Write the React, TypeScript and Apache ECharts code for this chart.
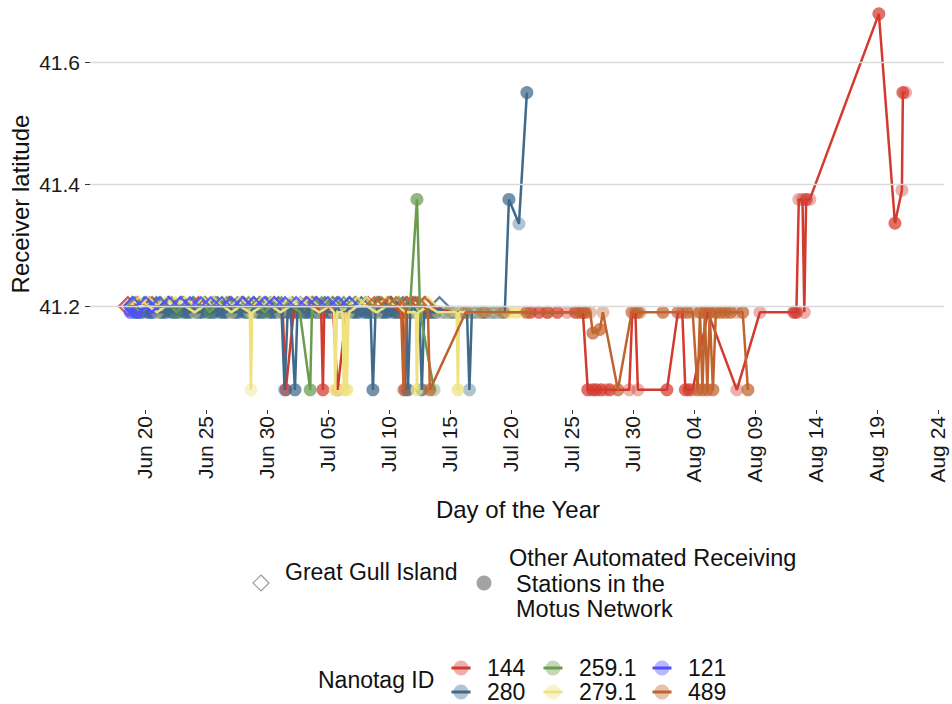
import React, { useEffect, useRef } from 'react';
import * as echarts from 'echarts';

// day = days after May 31 (Jun 20 = 20, Jul 05 = 35, Aug 04 = 65)
// kind: 0 = Great Gull Island, 1 = other station (single), 2 = other station (repeated)
type Pt = [number, number, number];

const tagIds = ['144', '280', '259.1', '279.1', '121', '489'];
const tagColors = ['#D33A2F', '#3F6A8B', '#6B9B4E', '#EFE27E', '#5050FF', '#C0632E'];

const tickDays = [20, 25, 30, 35, 40, 45, 50, 55, 60, 65, 70, 75, 80, 85];
const tickLabels = ['Jun 20', 'Jun 25', 'Jun 30', 'Jul 05', 'Jul 10', 'Jul 15', 'Jul 20', 'Jul 25', 'Jul 30', 'Aug 04', 'Aug 09', 'Aug 14', 'Aug 19', 'Aug 24'];
const latTicks = [41.2, 41.4, 41.6];

const tag144: Pt[] = [
  [18.61, 41.2, 0], [19.4, 41.2, 0], [20.6, 41.2, 0], [21.9, 41.2, 0], [23.1, 41.2, 0], [24.4, 41.2, 0],
  [25.6, 41.2, 0], [26.9, 41.2, 0], [28.1, 41.2, 0], [29.4, 41.2, 0], [30.6, 41.2, 0], [31.3, 41.19, 1],
  [31.55, 41.063, 2], [32.2, 41.19, 1], [33.2, 41.2, 0], [34.0, 41.2, 0], [34.45, 41.19, 1], [34.59, 41.063, 2],
  [34.7, 41.19, 1], [35.4, 41.2, 0], [35.8, 41.063, 1], [36.5, 41.19, 1], [37.3, 41.2, 0], [38.3, 41.2, 0],
  [39.2, 41.2, 0], [40.2, 41.2, 0], [41.1, 41.19, 1], [41.31, 41.063, 2], [41.5, 41.2, 0], [42.2, 41.2, 0],
  [43.0, 41.2, 0], [45.2, 41.19, 1], [47.6, 41.19, 1], [51.6, 41.19, 2], [52.3, 41.19, 2], [53.0, 41.19, 2],
  [53.8, 41.19, 2], [54.6, 41.19, 1], [55.3, 41.19, 2], [55.9, 41.19, 2], [56.3, 41.063, 2], [56.7, 41.063, 2],
  [57.0, 41.063, 2], [57.4, 41.063, 2], [57.8, 41.063, 1], [58.1, 41.063, 2], [59.7, 41.063, 1], [59.95, 41.19, 1],
  [60.2, 41.19, 1], [60.41, 41.063, 1], [62.79, 41.063, 2], [63.69, 41.19, 1], [64.05, 41.19, 1], [64.3, 41.063, 2],
  [64.6, 41.063, 2], [64.9, 41.063, 1], [66.15, 41.19, 1], [68.52, 41.063, 1], [70.41, 41.19, 1], [73.2, 41.19, 2],
  [73.4, 41.19, 2], [73.6, 41.375, 1], [73.9, 41.375, 1], [74.05, 41.19, 1], [74.2, 41.375, 2], [74.5, 41.375, 1],
  [80.16, 41.679, 2], [81.48, 41.336, 2], [82.05, 41.39, 1], [82.13, 41.55, 2], [82.35, 41.55, 1],
];

const tag280: Pt[] = [
  [19.0, 41.2, 0], [19.2, 41.19, 2], [19.45, 41.19, 2], [19.7, 41.19, 2], [19.95, 41.2, 0], [20.2, 41.19, 2],
  [20.45, 41.19, 2], [20.7, 41.19, 2], [20.95, 41.2, 0], [21.2, 41.19, 2], [21.45, 41.19, 2], [21.7, 41.19, 2],
  [21.95, 41.2, 0], [22.2, 41.19, 2], [22.45, 41.19, 2], [22.7, 41.19, 2], [22.95, 41.2, 0], [23.2, 41.19, 2],
  [23.45, 41.19, 2], [23.7, 41.19, 2], [23.95, 41.2, 0], [24.2, 41.19, 2], [24.45, 41.19, 2], [24.7, 41.19, 2],
  [24.95, 41.2, 0], [25.2, 41.19, 2], [25.45, 41.19, 2], [25.7, 41.19, 2], [25.95, 41.2, 0], [26.2, 41.19, 2],
  [26.45, 41.19, 2], [26.7, 41.19, 2], [26.95, 41.2, 0], [27.2, 41.19, 2], [27.45, 41.19, 2], [27.7, 41.19, 2],
  [27.95, 41.2, 0], [28.2, 41.19, 2], [28.45, 41.19, 2], [28.7, 41.19, 2], [28.95, 41.2, 0], [29.2, 41.19, 2],
  [29.45, 41.19, 2], [29.7, 41.19, 2], [29.95, 41.2, 0], [30.2, 41.19, 2], [30.45, 41.19, 2], [30.7, 41.19, 2],
  [30.95, 41.2, 0], [31.2, 41.19, 2], [31.45, 41.063, 1], [31.7, 41.19, 2], [31.95, 41.19, 2], [32.3, 41.063, 2],
  [32.5, 41.19, 2], [32.75, 41.2, 0], [33.0, 41.19, 2], [33.25, 41.19, 2], [33.5, 41.19, 2], [33.75, 41.2, 0],
  [34.0, 41.19, 2], [34.25, 41.19, 2], [34.5, 41.19, 2], [34.75, 41.2, 0], [35.0, 41.19, 2], [35.25, 41.19, 2],
  [35.5, 41.19, 2], [35.75, 41.2, 0], [36.0, 41.19, 2], [36.25, 41.19, 2], [36.5, 41.19, 2], [36.75, 41.2, 0],
  [37.0, 41.19, 2], [37.25, 41.19, 2], [37.5, 41.19, 2], [37.75, 41.2, 0], [38.0, 41.19, 2], [38.25, 41.19, 2],
  [38.5, 41.19, 2], [38.69, 41.063, 2], [38.9, 41.19, 2], [39.15, 41.2, 0], [39.4, 41.19, 2], [39.65, 41.19, 2],
  [39.9, 41.19, 2], [40.15, 41.2, 0], [40.4, 41.19, 2], [40.65, 41.19, 2], [40.9, 41.19, 2], [41.15, 41.2, 0],
  [41.4, 41.19, 2], [41.56, 41.063, 2], [41.75, 41.19, 2], [42.0, 41.2, 0], [42.25, 41.19, 2], [42.5, 41.19, 2],
  [42.7, 41.063, 2], [42.9, 41.19, 2], [43.15, 41.19, 2], [43.4, 41.19, 2], [43.65, 41.19, 2], [43.9, 41.19, 2],
  [44.15, 41.2, 0], [44.4, 41.19, 1], [44.65, 41.19, 1], [44.9, 41.19, 1], [45.15, 41.19, 1], [45.4, 41.19, 1],
  [45.65, 41.19, 1], [45.9, 41.19, 1], [46.15, 41.19, 1], [46.4, 41.19, 1], [46.6, 41.063, 1], [46.8, 41.19, 1],
  [47.05, 41.19, 1], [47.3, 41.19, 1], [47.55, 41.19, 1], [47.8, 41.19, 1], [48.05, 41.19, 1], [48.3, 41.19, 1],
  [48.55, 41.19, 1], [48.8, 41.19, 1], [49.05, 41.19, 1], [49.3, 41.19, 1], [49.5, 41.19, 1], [49.84, 41.375, 2],
  [50.66, 41.335, 1], [51.31, 41.55, 2],
];

const tag259: Pt[] = [
  [19.2, 41.2, 0], [19.5, 41.19, 1], [20.4, 41.2, 0], [21.3, 41.2, 0], [22.2, 41.2, 0], [22.6, 41.19, 1],
  [23.1, 41.2, 0], [24.0, 41.2, 0], [24.9, 41.2, 0], [25.3, 41.19, 1], [25.8, 41.2, 0], [26.7, 41.2, 0],
  [27.6, 41.2, 0], [28.5, 41.2, 0], [29.4, 41.2, 0], [29.8, 41.19, 1], [30.3, 41.2, 0], [31.2, 41.2, 0],
  [32.1, 41.2, 0], [32.7, 41.19, 1], [33.55, 41.063, 2], [33.7, 41.2, 0], [34.5, 41.2, 0], [35.4, 41.2, 0],
  [36.3, 41.2, 0], [37.2, 41.2, 0], [38.1, 41.2, 0], [39.0, 41.2, 0], [39.9, 41.2, 0], [40.8, 41.2, 0],
  [41.7, 41.19, 1], [42.3, 41.375, 2], [42.55, 41.19, 1], [43.7, 41.063, 1],
];

const tag279: Pt[] = [
  [19.5, 41.2, 0], [20.3, 41.2, 0], [21.0, 41.19, 1], [21.7, 41.2, 0], [22.5, 41.2, 0], [23.3, 41.2, 0],
  [24.1, 41.19, 1], [24.8, 41.2, 0], [25.6, 41.2, 0], [26.4, 41.2, 0], [27.1, 41.19, 1], [27.8, 41.2, 0],
  [28.6, 41.19, 1], [28.69, 41.063, 1], [28.8, 41.19, 1], [29.6, 41.2, 0], [30.4, 41.2, 0], [31.1, 41.19, 1],
  [31.9, 41.2, 0], [32.7, 41.2, 0], [33.5, 41.2, 0], [34.3, 41.19, 1], [35.1, 41.2, 0], [35.5, 41.19, 1],
  [35.6, 41.063, 2], [35.75, 41.19, 1], [36.2, 41.19, 1], [36.3, 41.063, 2], [36.45, 41.19, 1], [36.55, 41.063, 2],
  [36.7, 41.19, 1], [37.4, 41.2, 0], [38.2, 41.2, 0], [39.0, 41.19, 1], [39.8, 41.2, 0], [40.6, 41.2, 0],
  [41.4, 41.19, 1], [42.2, 41.19, 1], [42.3, 41.063, 2], [42.4, 41.19, 1], [43.2, 41.2, 0], [44.0, 41.19, 1],
  [44.8, 41.19, 1], [45.55, 41.19, 1], [45.66, 41.063, 2], [45.75, 41.19, 1], [46.6, 41.19, 1], [47.4, 41.19, 1],
  [48.2, 41.19, 1], [49.0, 41.19, 1], [49.8, 41.19, 2], [50.4, 41.19, 2], [50.9, 41.19, 1],
];

const tag121: Pt[] = [
  [18.8, 41.19, 2], [19.0, 41.2, 0], [19.3, 41.19, 2], [19.6, 41.19, 1], [20.1, 41.2, 0], [20.5, 41.19, 1],
  [21.2, 41.2, 0], [22.0, 41.2, 0], [22.9, 41.2, 0], [23.7, 41.2, 0], [24.6, 41.2, 0], [25.4, 41.2, 0],
  [26.3, 41.2, 0], [27.1, 41.2, 0], [28.0, 41.2, 0], [28.9, 41.2, 0], [29.8, 41.2, 0], [30.6, 41.2, 0],
  [31.5, 41.2, 0], [32.4, 41.2, 0], [33.3, 41.2, 0], [34.1, 41.2, 0], [35.0, 41.2, 0], [35.9, 41.2, 0],
  [36.8, 41.2, 0],
];

const tag489: Pt[] = [
  [38.8, 41.2, 0], [39.4, 41.2, 0], [40.0, 41.2, 0], [40.6, 41.2, 0], [41.0, 41.19, 1], [41.2, 41.063, 1],
  [41.4, 41.2, 0], [41.9, 41.2, 0], [42.4, 41.2, 0], [42.9, 41.2, 0], [43.2, 41.19, 1], [43.36, 41.063, 2],
  [46.3, 41.19, 1], [47.8, 41.19, 1], [49.4, 41.19, 1], [51.3, 41.19, 2], [53.0, 41.19, 1], [55.6, 41.19, 2],
  [56.1, 41.19, 2], [56.5, 41.19, 1], [56.72, 41.156, 2], [57.3, 41.162, 2], [57.54, 41.19, 1], [58.77, 41.063, 2],
  [59.9, 41.19, 1], [60.4, 41.19, 2], [60.6, 41.19, 1], [62.46, 41.19, 2], [63.69, 41.19, 1], [64.45, 41.19, 2],
  [64.9, 41.19, 1], [65.3, 41.063, 2], [65.5, 41.19, 2], [65.7, 41.063, 2], [65.9, 41.19, 2], [66.1, 41.063, 2],
  [66.3, 41.19, 2], [66.56, 41.063, 2], [66.8, 41.19, 2], [67.2, 41.19, 2], [67.6, 41.19, 2], [68.0, 41.19, 2],
  [68.5, 41.19, 1], [69.0, 41.19, 2], [69.43, 41.063, 2],
];

const tagPoints: Pt[][] = [tag144, tag280, tag259, tag279, tag121, tag489];

const FONT = '"Liberation Sans", Arial, Helvetica, sans-serif';

export default function App() {
  const ref = useRef<HTMLDivElement>(null);
  useEffect(() => {
    const chart = echarts.init(ref.current!, null, { renderer: 'svg' });

    const lineSeries = tagPoints.map((pts, i) => ({
      type: 'line',
      name: tagIds[i] + '-path',
      silent: true,
      symbol: 'none',
      showSymbol: false,
      lineStyle: { color: tagColors[i], width: 2.5 },
      data: pts.map(([d, lat]) => [d, lat]),
    }));

    const diamondSeries = tagPoints.map((pts, i) => ({
      type: 'scatter',
      name: tagIds[i] + '-ggi',
      silent: true,
      symbol: 'diamond',
      symbolSize: 18,
      itemStyle: { color: 'rgba(0,0,0,0)', borderColor: tagColors[i], borderWidth: 2.3, opacity: 0.85 },
      data: pts.filter((p) => p[2] === 0).map(([d, lat]) => [d, lat]),
    }));

    const circleSeries = tagPoints.map((pts, i) => ({
      type: 'scatter',
      name: tagIds[i],
      silent: true,
      symbol: 'circle',
      symbolSize: 13,
      data: pts.filter((p) => p[2] !== 0).map(([d, lat, k]) => ({
        value: [d, lat],
        itemStyle: { color: tagColors[i], opacity: k === 2 ? 0.72 : 0.4 },
      })),
    }));

    const txt = (text: string, x: number, y: number, size: number, align = 'left', rotation = 0) => ({
      type: 'text', x, y, rotation,
      style: { text, fontSize: size, fontFamily: FONT, fill: '#111', align, verticalAlign: 'middle' },
    });

    const g: any[] = [];
    g.push({
      type: 'polygon',
      shape: { points: [[261, 575], [269, 583], [261, 591], [253, 583]] },
      style: { fill: 'none', stroke: '#9a9a9a', lineWidth: 1.2 },
    });
    g.push(txt('Great Gull Island', 285, 572, 23));
    g.push({ type: 'circle', shape: { cx: 484, cy: 583, r: 7.5 }, style: { fill: '#8c8c8c', opacity: 0.8 } });
    g.push(txt('Other Automated Receiving', 509, 558, 23.5));
    g.push(txt('Stations in the', 516, 584, 23.5));
    g.push(txt('Motus Network', 516, 609, 23.5));
    g.push(txt('Nanotag ID', 318, 680, 23));
    const colX = [461, 553, 662];
    const rowY = [668, 692];
    tagIds.forEach((id, i) => {
      const cx = colX[Math.floor(i / 2)];
      const cy = rowY[i % 2];
      g.push({ type: 'circle', shape: { cx, cy, r: 7.5 }, style: { fill: tagColors[i], opacity: 0.4 } });
      g.push({
        type: 'line', shape: { x1: cx - 9.5, y1: cy, x2: cx + 9.5, y2: cy },
        style: { stroke: tagColors[i], lineWidth: 3 },
      });
      g.push(txt(id, cx + 26, cy, 23));
    });
    g.push(txt('Day of the Year', 518, 509, 24, 'center'));
    g.push(txt('Receiver latitude', 20, 204, 24, 'center', Math.PI / 2));

    const option: any = {
      animation: false,
      backgroundColor: '#ffffff',
      grid: { left: 90, right: 8, top: 1, bottom: 294, containLabel: false },
      xAxis: {
        type: 'value',
        min: 15.5,
        max: 85.5,
        axisLine: { show: false },
        splitLine: { show: false },
        axisTick: { show: true, customValues: tickDays, length: 4, lineStyle: { color: '#333', width: 1 } },
        axisLabel: {
          customValues: tickDays,
          rotate: 90,
          margin: 6,
          fontSize: 21,
          fontFamily: FONT,
          color: '#1a1a1a',
          formatter: (v: number) => {
            const idx = tickDays.indexOf(Math.round(v));
            return idx >= 0 ? tickLabels[idx] : '';
          },
        },
      },
      yAxis: {
        type: 'value',
        min: 41.03,
        max: 41.70,
        axisLine: { show: false },
        splitLine: { show: false },
        axisTick: { show: true, customValues: latTicks, length: 5, lineStyle: { color: '#333', width: 1 } },
        axisLabel: {
          customValues: latTicks,
          margin: 10,
          fontSize: 21,
          fontFamily: FONT,
          color: '#1a1a1a',
          formatter: (v: number) => v.toFixed(1),
        },
      },
      graphic: g,
      series: [
        {
          type: 'line',
          name: 'grid',
          silent: true,
          symbol: 'none',
          data: [[15.5, 41.2]],
          lineStyle: { opacity: 0 },
          markLine: {
            silent: true,
            symbol: ['none', 'none'],
            label: { show: false },
            lineStyle: { color: '#dadada', width: 1.3, type: 'solid' },
            data: latTicks.map((v) => ({ yAxis: v })),
          },
        },
        ...lineSeries,
        ...diamondSeries,
        ...circleSeries,
      ],
    };
    chart.setOption(option);
    return () => chart.dispose();
  }, []);
  return <div ref={ref} style={{ position: 'fixed', left: 0, top: 0, width: 952, height: 704, background: '#fff' }} />;
}
